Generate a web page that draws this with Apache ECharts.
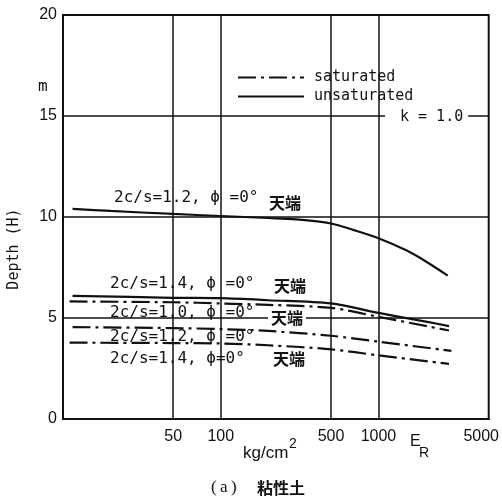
<!DOCTYPE html>
<html>
<head>
<meta charset="utf-8">
<script src="https://cdn.jsdelivr.net/npm/echarts@6/dist/echarts.min.js"></script>
<style>
html, body { margin: 0; padding: 0; background: #fff; }
#c1 { width: 502px; height: 500px; }
</style>
</head>
<body>
<div id="c1"></div>
<script>
// E_R (kg/cm2) vs depth H (m), k = 1.0
var xTicks = [50, 100, 500, 1000, 5000];
var xGrid = [50, 100, 500, 1000];

var unsat12 = [[11.5, 10.4], [20, 10.3], [50, 10.15], [100, 10.05], [200, 9.95], [300, 9.88], [500, 9.68], [700, 9.35], [1000, 8.95], [1500, 8.35], [2000, 7.8], [2750, 7.1]];
var unsat14 = [[11.5, 6.1], [50, 6.0], [100, 5.98], [200, 5.88], [500, 5.72], [1000, 5.25], [2000, 4.82], [2800, 4.6]];
var sat10 = [[11, 5.82], [50, 5.78], [100, 5.72], [200, 5.65], [500, 5.5], [1000, 5.06], [2800, 4.38]];
var sat12 = [[11.5, 4.55], [50, 4.5], [100, 4.45], [200, 4.36], [500, 4.12], [1000, 3.83], [2900, 3.37]];
var sat14 = [[11, 3.78], [50, 3.76], [100, 3.74], [200, 3.65], [500, 3.45], [1000, 3.15], [2800, 2.73]];

var ink = '#111';
var dashDot = [18, 5, 3, 5];
var mono = '"DejaVu Sans Mono", monospace';
var sans = '"Liberation Sans", sans-serif';
var cjk = '"Noto Sans CJK JP", sans-serif';

function curve(name, data, dashed, extra) {
    var s = {
        name: name,
        type: 'line',
        data: data,
        symbol: 'none',
        smooth: 0.3,
        silent: true,
        itemStyle: {color: ink},
        lineStyle: {color: ink, width: 2.2, type: dashed ? dashDot : 'solid'}
    };
    if (extra) {
        for (var k in extra) s[k] = extra[k];
    }
    return s;
}

function txt(text, x, y, font, extra) {
    var st = {text: text, font: font, fill: ink, textAlign: 'left', textVerticalAlign: 'middle'};
    if (extra) {
        for (var k in extra) st[k] = extra[k];
    }
    return {type: 'text', x: x, y: y, z: 100, silent: true, style: st};
}

var labelFont = '16px ' + mono;
var cjkFont = 'bold 16px ' + cjk;

option = {
    animation: false,
    backgroundColor: '#fff',
    grid: {
        left: 63,
        right: 11,
        top: 15,
        bottom: 81,
        show: true,
        borderColor: ink,
        borderWidth: 2
    },
    legend: {
        orient: 'vertical',
        left: 229,
        top: 68,
        itemWidth: 66,
        itemHeight: 14,
        itemGap: 4,
        backgroundColor: '#fff',
        padding: [2, 8, 3, 8],
        itemStyle: {color: 'transparent', borderColor: 'transparent', borderWidth: 0},
        textStyle: {fontFamily: mono, fontSize: 15, color: ink, padding: [0, 0, 0, 5]},
        data: ['saturated', 'unsaturated']
    },
    xAxis: {
        type: 'log',
        logBase: 10,
        min: 10,
        max: 5000,
        axisLine: {lineStyle: {color: ink, width: 2}},
        axisTick: {show: false},
        splitLine: {show: false},
        minorSplitLine: {show: false},
        axisLabel: {
            customValues: xTicks,
            color: ink,
            fontFamily: sans,
            fontSize: 16,
            margin: 10,
            formatter: function (v) {
                return v === 5000 ? '{r|5000}' : String(v);
            },
            rich: {
                r: {color: ink, fontFamily: sans, fontSize: 16, padding: [0, 15, 0, 0]}
            }
        }
    },
    yAxis: {
        type: 'value',
        min: 0,
        max: 20,
        interval: 5,
        axisLine: {show: true, lineStyle: {color: ink, width: 2}},
        axisTick: {show: false},
        splitLine: {lineStyle: {color: ink, width: 1.5}},
        axisLabel: {
            color: ink,
            fontFamily: sans,
            fontSize: 16,
            margin: 6
        }
    },
    series: [
        curve('unsaturated', unsat12, false, {
            markLine: {
                silent: true,
                symbol: ['none', 'none'],
                label: {show: false},
                lineStyle: {color: ink, width: 1.5, type: 'solid'},
                data: xGrid.map(function (v) { return {xAxis: v}; })
            }
        }),
        curve('unsaturated', unsat14, false),
        curve('saturated', sat10, true),
        curve('saturated', sat12, true),
        curve('saturated', sat14, true)
    ],
    graphic: [
        txt('m', 38, 87, '16px ' + mono),
        txt('k = 1.0', 385, 117, '15px ' + mono, {backgroundColor: '#fff', padding: [2, 5, 2, 15]}),
        txt('2c/s=1.2, \u03d5 =0\u00b0', 114, 198, labelFont),
        txt('\u5929\u7aef', 269, 203, cjkFont),
        txt('2c/s=1.4, \u03d5 =0\u00b0', 110, 284, labelFont),
        txt('\u5929\u7aef', 274, 286, cjkFont),
        txt('2c/s=1.0, \u03d5 =0\u00b0', 110, 313, labelFont),
        txt('\u5929\u7aef', 268, 318, cjkFont, {backgroundColor: '#fff', padding: [0, 3, 0, 3]}),
        txt('2c/s=1.2, \u03d5 =0\u00b0', 110, 337, labelFont),
        txt('2c/s=1.4, \u03d5=0\u00b0', 110, 359, labelFont),
        txt('\u5929\u7aef', 273, 359, cjkFont),
        txt('Depth (H)', 14, 249, '15px ' + mono, {textAlign: 'center'}),
        txt('kg/cm', 243, 453, '17px ' + sans),
        txt('2', 289, 444, '14px ' + sans),
        txt('E', 410, 442, '16px ' + sans),
        txt('R', 419, 453, '14px ' + sans),
        txt('(\u2009a\u2009)', 211, 488, '17px "Liberation Serif", serif'),
        txt('\u7c98\u6027\u571f', 257, 488, 'bold 16px ' + cjk)
    ]
};
// rotate the y axis title
option.graphic[11].rotation = Math.PI / 2;

echarts.init(document.getElementById('c1')).setOption(option);
</script>
</body>
</html>
